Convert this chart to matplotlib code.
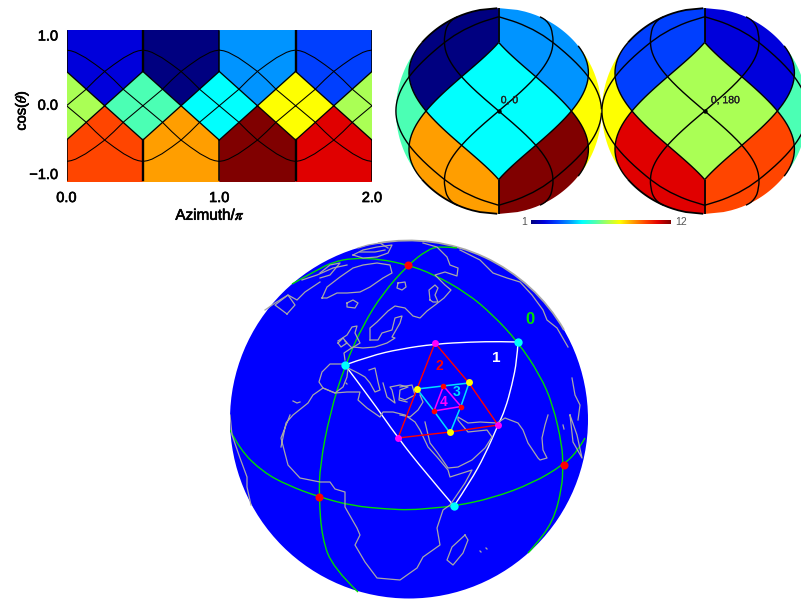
import numpy as np
import matplotlib
matplotlib.use('Agg')
import matplotlib.pyplot as plt
import matplotlib.patheffects as pe
from matplotlib.patches import Polygon, Circle, Arc, PathPatch
from matplotlib.path import Path
from matplotlib.colors import Normalize, LinearSegmentedColormap

W, H = 801, 599
plt.rcParams['font.family'] = ['Liberation Sans', 'DejaVu Sans']
plt.rcParams['mathtext.fontset'] = 'stix'

# base pixel numbers, one per quarter of azimuth
top_cells = [2, 1, 4, 3]
mid_cells = [7, 6, 5, 8]
bot_cells = [10, 9, 12, 11]

# colours of the 12 levels
level_colors = ['#000080', '#0000dc', '#0040ff', '#0096ff', '#00ffff', '#4bffb4',
                '#aaff55', '#ffff00', '#ffa000', '#ff4600', '#e10000', '#800000']

# flat map: boundary of the sub pixels, one half period
flat_x = [0, 0.03, 0.06, 0.125, 0.19, 0.25, 0.31, 0.375, 0.5]
flat_y = [0.73, 0.72, 0.70, 0.63, 0.54, 0.45, 0.34, 0.21, 0.0]
flat_tip = 0.45

# same boundary on the sphere (azimuth/pi, cos theta)
sphere_phi = [0, 0.125, 0.25, 0.28, 0.3125, 0.35, 0.375, 0.4, 0.45, 0.5]
sphere_z = [0, 0.333, 0.667, 0.734, 0.787, 0.83, 0.852, 0.87, 0.897, 0.917]
sphere_tip = 0.667

tri1_ab = [(345, 365), (370, 356), (400, 349), (435, 344), (470, 342), (500, 341.5), (518, 342)]
tri1_ac = [(345, 365), (370, 398), (398, 438), (425, 472), (454, 506)]
tri1_bc = [(518, 342), (517, 360), (512, 385), (505, 410), (498, 425), (485, 455), (470, 482), (454, 506)]
tri2 = [(435, 343), (469, 383), (498, 425), (450, 432), (398, 438), (417, 389), (435, 343)]
tri3 = [(417, 389), (443, 386), (469, 383), (461, 406), (450, 433), (434, 411), (417, 389)]
tri4 = [(443.5, 386), (461, 406.5), (434, 411), (443.5, 386)]

green1 = [(457, 248), (440, 246), (427, 250), (408, 265), (383, 293), (363, 325), (345, 365), (330, 413),
          (320, 465), (319, 497), (322, 538), (333, 568), (358, 592)]
green2 = [(292, 284), (317, 270), (333, 262), (353, 258), (380, 259), (408, 265), (433, 274), (467, 293),
          (493, 315), (518, 342), (540, 375), (553, 405), (562, 445), (563, 465), (562, 488), (553, 522),
          (533, 548), (528, 553)]
green3 = [(230, 430), (240, 450), (263, 472), (287, 485), (319, 497), (353, 506), (387, 509), (410, 510),
          (433, 508), (455, 506), (493, 498), (533, 483), (563, 465), (577, 452), (585, 438)]

red_x, red_y = [408, 319, 564], [265, 497, 465]
cyan_x, cyan_y = [345, 518, 454.5], [365, 342, 506]
magenta_x, magenta_y = [435, 498, 398.5], [343, 425, 438]
yellow_x, yellow_y = [417, 469, 450], [389, 382.5, 432]
small_x, small_y = [443.5, 461, 434], [386, 406.5, 411]

coasts = [
    # greenland and arctic islands
    [(322, 298), (327, 287), (340, 277), (353, 268), (363, 265), (377, 263), (390, 265), (392, 273), (383, 278),
     (370, 287), (360, 292), (347, 293), (337, 293), (327, 298), (322, 298)],
    [(353, 255), (363, 250), (377, 247), (392, 245), (388, 253), (377, 257), (363, 258), (353, 255)],
    [(360, 252), (375, 252), (385, 250)],
    [(358, 248), (368, 245), (380, 243), (388, 248)],
    [(320, 273), (330, 265), (340, 263), (330, 275), (320, 278)],
    [(302, 280), (317, 275), (333, 268), (347, 265)],
    [(265, 310), (275, 303), (288, 295), (297, 300), (305, 292), (320, 282)],
    [(287, 314), (295, 305), (288, 295), (275, 305), (287, 314)],
    [(347, 303), (353, 300), (358, 303), (355, 308), (347, 307), (347, 303)],
    [(398, 283), (405, 282), (406, 287), (402, 290), (397, 288), (398, 283)],
    # britain and ireland
    [(338, 341), (347, 335), (352, 327), (357, 326), (355, 333), (360, 343), (352, 348), (345, 341)],
    [(338, 343), (343, 338), (347, 343), (341, 347), (338, 343)],
    # north coast of eurasia
    [(370, 340), (370, 328), (377, 322), (388, 311), (395, 306), (405, 308), (413, 316), (420, 318), (427, 311),
     (435, 305), (444, 298), (451, 290), (445, 285), (435, 275), (445, 272), (457, 276), (458, 268), (450, 265),
     (447, 257), (437, 247), (423, 243)],
    [(430, 300), (429, 290), (435, 285), (438, 288), (435, 295), (438, 302), (433, 302), (430, 300)],
    # baltic and north sea
    [(370, 340), (378, 340), (382, 333), (392, 330), (395, 318), (402, 316), (400, 323), (392, 337), (395, 338),
     (387, 343), (375, 347), (363, 348), (353, 347), (344, 353), (345, 360)],
    # iberia and mediterranean
    [(345, 364), (330, 364), (322, 372), (319, 382), (323, 388), (335, 393), (343, 387), (347, 377), (348, 368),
     (358, 373), (365, 377), (370, 383), (375, 392), (380, 390), (378, 382), (375, 368), (369, 370)],
    [(383, 383), (387, 397), (395, 403), (392, 390), (390, 387), (400, 385), (408, 387), (400, 390), (399, 400),
     (407, 402)],
    [(400, 387), (412, 385), (415, 395), (405, 400), (400, 398)],
    [(400, 415), (410, 417), (418, 410), (423, 402), (420, 395)],
    # africa
    [(281, 447), (286, 423), (293, 415), (308, 403), (313, 395), (323, 388), (335, 393), (347, 392), (360, 392),
     (358, 400), (367, 408), (380, 417), (383, 412), (393, 412), (405, 415), (415, 422), (420, 430), (428, 447),
     (437, 457), (448, 470), (450, 477), (472, 470), (465, 483), (450, 505), (443, 510), (437, 528), (440, 545),
     (423, 557), (417, 568), (400, 580), (377, 578), (365, 562), (355, 545), (360, 535), (357, 528), (345, 507),
     (345, 492), (335, 489), (330, 482), (320, 482), (300, 478), (288, 465), (281, 438), (290, 415)],
    # arabia, persia, india
    [(425, 422), (430, 443), (437, 452), (448, 468), (458, 467), (472, 460), (485, 448), (492, 437), (487, 430),
     (468, 432), (458, 420), (458, 417), (468, 423), (480, 422), (497, 423), (505, 418), (518, 423), (523, 430),
     (528, 443), (538, 458), (540, 460), (547, 458), (543, 450), (542, 438), (545, 425), (548, 415)],
    [(570, 415), (573, 442), (582, 458), (577, 435), (570, 415)],
    [(563, 425), (564, 429)],
    # madagascar and small islands
    [(465, 535), (468, 540), (463, 553), (453, 565), (447, 560), (452, 547), (465, 535)],
    [(480, 551), (481, 552)], [(486, 548), (487, 549)], [(293, 401), (297, 403), (300, 402)], [(346, 383), (347, 384)],
    # west limb and north east limb
    [(230, 415), (232, 435), (240, 458), (247, 477), (247, 487), (251, 505)],
    [(460, 250), (480, 260), (493, 273), (507, 278), (520, 282), (532, 295), (543, 310), (547, 320), (557, 328),
     (568, 347)],
    [(572, 378), (575, 395), (580, 405), (578, 420)],
]


def px_axes(x0, y0, x1, y1):
    ax = fig.add_axes([x0 / W, 1 - y1 / H, (x1 - x0) / W, (y1 - y0) / H])
    return ax


def densify(xs, ys, n=80):
    t = np.linspace(0, len(xs) - 1, n * (len(xs) - 1) // 4 + 1)
    i = np.arange(len(xs))
    return np.interp(t, i, xs), np.interp(t, i, ys)


def bold(t, w=0.45):
    t.set_path_effects([pe.withStroke(linewidth=w, foreground=t.get_color())])
    return t


def smooth_path(pts):
    # quadratic bezier pieces, the read points act as control points
    pts = np.asarray(pts, float)
    verts = [pts[0]]
    codes = [Path.MOVETO]
    for i in range(1, len(pts) - 1):
        end = pts[i + 1] if i == len(pts) - 2 else (pts[i] + pts[i + 1]) / 2
        verts += [pts[i], end]
        codes += [Path.CURVE3, Path.CURVE3]
    return Path(verts, codes)


fig = plt.figure(figsize=(W / 100, H / 100), dpi=100)
norm = Normalize(1, 12)
cmap = LinearSegmentedColormap.from_list('levels', level_colors, N=256)

# flat map
ax = px_axes(66.5, 29.5, 372, 182)
for k in range(4):
    x0 = k * 0.5
    xs = [x0, x0, x0 + 0.25, x0 + 0.5, x0 + 0.5]
    ax.add_patch(Polygon(list(zip(xs, [1, flat_tip, 0, flat_tip, 1])), color=cmap(norm(top_cells[k])), lw=0))
    ax.add_patch(Polygon(list(zip(xs, [-1, -flat_tip, 0, -flat_tip, -1])), color=cmap(norm(bot_cells[k])), lw=0))
    for c in ([x0, x0 + 2] if k == 0 else [x0]):
        ax.add_patch(Polygon([(c, flat_tip), (c + 0.25, 0), (c, -flat_tip), (c - 0.25, 0)],
                             color=cmap(norm(mid_cells[k])), lw=0))
for k in range(5):
    x0 = k * 0.5
    fx = np.array(flat_x)
    fy = np.array(flat_y)
    for side in (1, -1):
        for sign in (1, -1):
            ax.plot(x0 + side * fx, sign * fy, color='k', lw=0.75)
            ax.plot([x0, x0 + side * 0.25], [sign * flat_tip, 0], color='k', lw=0.95)
        ax.plot([x0, x0], [side * flat_tip, side * 0.98], color='k', lw=1.7 if k in (1, 3) else 1.1)
ax.set_xlim(0, 2)
ax.set_ylim(-1, 1)
ax.set_xticks([0, 1, 2], ['0.0', '1.0', '2.0'])
ax.set_yticks([-1, 0, 1], ['\u22121.0', '0.0', '1.0'])
ax.tick_params(length=0, labelsize=10.5)
ax.tick_params(axis='x', pad=6.5)
ax.tick_params(axis='y', pad=6)
for t, va in zip(ax.get_yticklabels(), ['bottom', 'center', 'top']):
    t.set_va(va)
    bold(t)
for t in ax.get_xticklabels():
    bold(t)
for s in ax.spines.values():
    s.set_visible(False)
bold(ax.set_xlabel('Azimuth/$\\pi$', fontsize=11, labelpad=2, x=0.47))
bold(ax.set_ylabel('cos($\\theta$)', fontsize=10.5, labelpad=-1, y=0.47))


def draw_sphere(cx, cy, r, phi0, label, label_dx):
    ax = px_axes(cx - r, cy - r, cx + r, cy + r)
    ax.set_xlim(-1, 1)
    ax.set_ylim(-1, 1)
    ax.axis('off')

    def fill(ps, zs, center, value):
        ps, zs = densify(ps, zs)
        ref = (center - phi0 + 1) % 2 - 1
        d = np.clip((ref + ps - center) * np.pi, -np.pi / 2, np.pi / 2)
        s = np.sqrt(1 - zs ** 2)
        ax.add_patch(Polygon(np.column_stack([s * np.sin(d), zs]), color=cmap(norm(value)), lw=0, clip_on=False))

    def line(ps, zs, lw):
        ps, zs = densify(ps, zs)
        d = (np.asarray(ps) * np.pi - phi0 * np.pi + np.pi) % (2 * np.pi) - np.pi
        s = np.sqrt(1 - zs ** 2)
        x = s * np.sin(d)
        x[(d < -np.pi / 2 - 1e-9) | (d >= np.pi / 2 - 1e-9)] = np.nan
        ax.plot(x, zs, color='k', lw=lw, clip_on=False, solid_capstyle='butt')

    for k in range(4):
        p0 = k * 0.5
        ps = [p0, p0, p0 + 0.25, p0 + 0.5, p0 + 0.5]
        fill(ps, [0.9999, sphere_tip, 0, sphere_tip, 0.9999], p0 + 0.25, top_cells[k])
        fill(ps, [-0.9999, -sphere_tip, 0, -sphere_tip, -0.9999], p0 + 0.25, bot_cells[k])
        fill([p0, p0 + 0.25, p0, p0 - 0.25, p0], [sphere_tip, 0, -sphere_tip, 0, sphere_tip], p0, mid_cells[k])

    sp = np.array(sphere_phi)
    sz = np.array(sphere_z)
    for k in range(4):
        p0 = k * 0.5
        for side in (1, -1):
            for sign in (1, -1):
                line(p0 + side * sp, sign * sz, 1.0)
                line([p0, p0 + side * 0.25], [sign * sphere_tip, 0], 1.0)
            line([p0, p0], [side * sphere_tip, side * 0.9999], 1.3)
    ax.plot([0], [0], 'o', color='k', ms=3.2, mew=0)
    bold(ax.text(label_dx, 0.105, label, fontsize=7.5, ha='left', va='center', color='#222222'), 0.2)


draw_sphere(498.7, 111, 102.8, 1.0, '0, 0', 0.02)
draw_sphere(704.7, 111, 102.8, 0.0, '0, 180', 0.06)

# colour bar
cax = px_axes(531, 220, 671, 224)
cax.imshow(np.linspace(1, 12, 256)[None, :], cmap=cmap, norm=norm, aspect='auto', extent=(1, 12, 0, 1))
cax.axis('off')
cax.text(-0.03, 0.5, '1', transform=cax.transAxes, fontsize=7.5, color='#555555', ha='right', va='center')
cax.text(1.03, 0.5, '12', transform=cax.transAxes, fontsize=7.5, color='#555555', ha='left', va='center')

# globe, axes run in picture pixels
gx = px_axes(230, 240.5, 588, 598.5)
gx.set_xlim(230, 588)
gx.set_ylim(598.5, 240.5)
gx.axis('off')
gx.add_patch(Circle((409, 419.5), 179, color='#0000ff', lw=0, clip_on=False))
gx.add_patch(Arc((409, 419.5), 358, 358, theta1=260, theta2=330, color='#a8a8a8', lw=1.3, clip_on=False))
for line in coasts:
    gx.plot(*zip(*line), color='#a8a8a8', lw=0.9)
for line in (green1, green2, green3):
    gx.add_patch(PathPatch(smooth_path(line), fill=False, edgecolor='#00dc00', lw=1.0))
for line in (tri1_ab, tri1_ac, tri1_bc):
    gx.add_patch(PathPatch(smooth_path(line), fill=False, edgecolor='white', lw=1.0))
gx.plot(*zip(*tri2), color='#ff0000', lw=1.0)
gx.plot(*zip(*tri3), color='#00e0ff', lw=1.1)
gx.plot(*zip(*tri4), color='#ff00ff', lw=1.1)
gx.plot(red_x, red_y, 'o', color='#ff0000', ms=5.8, mew=0)
gx.plot(cyan_x, cyan_y, 'o', color='#00ffff', ms=6, mew=0)
gx.plot(magenta_x, magenta_y, 'o', color='#ff00ff', ms=5, mew=0)
gx.plot(yellow_x, yellow_y, 'o', color='#ffff00', ms=5, mew=0)
gx.plot(small_x, small_y, 'o', color='#ff0000', ms=4, mew=0)
for x, y, s, c, size in [(530, 320, '0', '#00e000', 12), (496, 358, '1', 'white', 11), (439, 366, '2', '#ff0000', 10),
                         (457, 392, '3', '#00e0ff', 10), (444, 401.5, '4', '#ff00ff', 10)]:
    gx.text(x, y, s, color=c, fontsize=size, fontweight='bold', ha='center', va='center')

plt.savefig('out.png', dpi=100)
plt.close()
